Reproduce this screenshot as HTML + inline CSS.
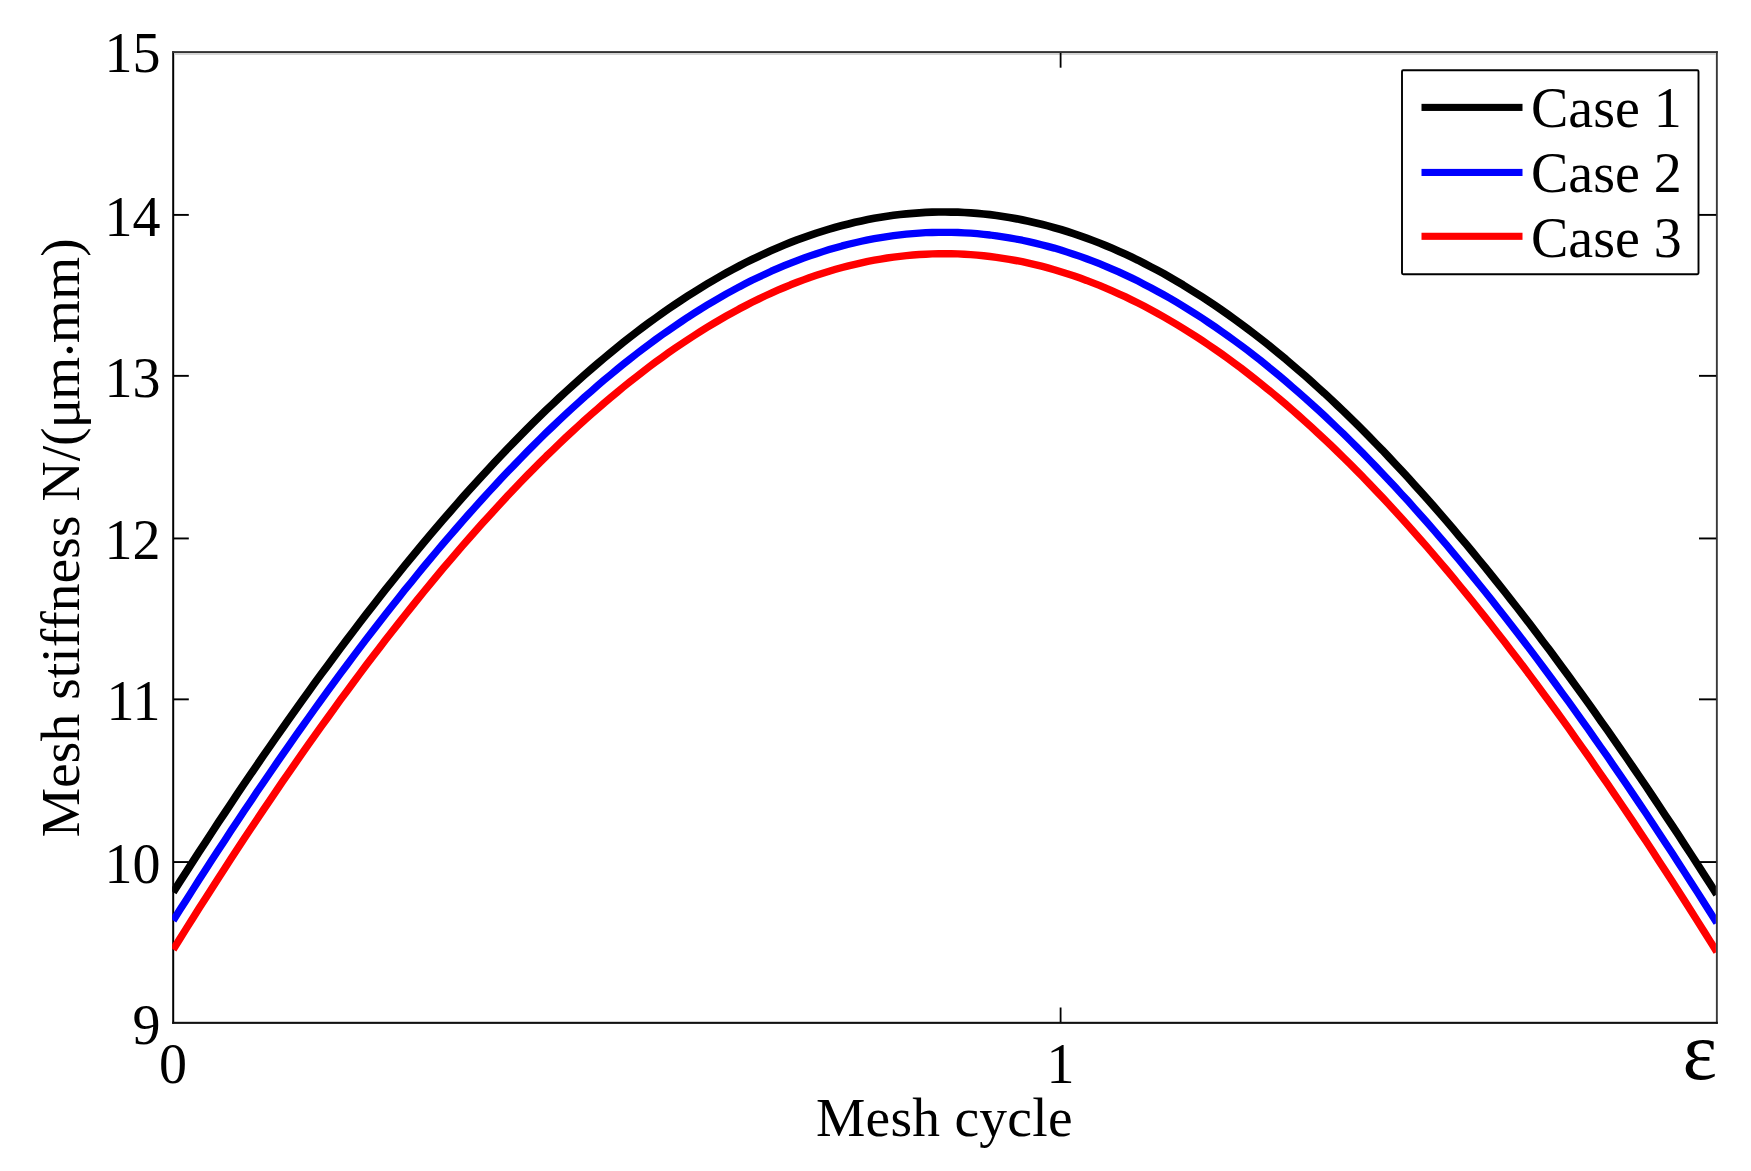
<!DOCTYPE html>
<html lang="en"><head><meta charset="utf-8"><title>Mesh stiffness</title>
<style>html,body{margin:0;padding:0;background:#fff;overflow:hidden}svg{display:block}</style></head>
<body>
<svg width="1751" height="1171" viewBox="0 0 1751 1171">
<rect width="1751" height="1171" fill="#fff"/>
<g fill="#000">
<rect x="172.2" y="51.2" width="2" height="972.5999999999999"/>
<rect x="1715.9" y="51.2" width="1.9" height="972.5999999999999" fill="#3a3a3a"/>
<rect x="172.2" y="51.1" width="1545.6" height="2" fill="#333"/>
<rect x="174.2" y="53.1" width="1541.7" height="1.8" fill="#d2d2d2"/>
<rect x="172.2" y="1021.8" width="1545.6" height="2.1" fill="#111"/>
<rect x="174" y="861.10" width="14.8" height="1.9"/>
<rect x="1699" y="861.10" width="17.2" height="1.9"/>
<rect x="174" y="698.40" width="14.8" height="1.9"/>
<rect x="1699" y="698.40" width="17.2" height="1.9"/>
<rect x="174" y="537.50" width="14.8" height="1.9"/>
<rect x="1699" y="537.50" width="17.2" height="1.9"/>
<rect x="174" y="374.90" width="14.8" height="1.9"/>
<rect x="1699" y="374.90" width="17.2" height="1.9"/>
<rect x="174" y="213.95" width="14.8" height="1.9"/>
<rect x="1699" y="213.95" width="17.2" height="1.9"/>
<rect x="1059.7" y="1007.5" width="1.8" height="14.5"/>
<rect x="1059.7" y="53" width="1.8" height="14.7"/>
</g>
<clipPath id="c"><rect x="172.2" y="52.3" width="1543.7" height="970.5"/></clipPath>
<g clip-path="url(#c)" fill="none" stroke-linejoin="round">
<path d="M173.2,949.5 L179.6,939.2 L186.1,928.9 L192.5,918.7 L198.9,908.5 L205.4,898.4 L211.8,888.4 L218.2,878.4 L224.7,868.5 L231.1,858.6 L237.5,848.8 L243.9,839.0 L250.4,829.3 L256.8,819.7 L263.2,810.1 L269.7,800.6 L276.1,791.1 L282.5,781.7 L289.0,772.4 L295.4,763.1 L301.8,753.9 L308.3,744.7 L314.7,735.6 L321.1,726.6 L327.6,717.7 L334.0,708.8 L340.4,699.9 L346.9,691.2 L353.3,682.5 L359.7,673.9 L366.1,665.3 L372.6,656.8 L379.0,648.4 L385.4,640.1 L391.9,631.8 L398.3,623.6 L404.7,615.5 L411.2,607.4 L417.6,599.4 L424.0,591.5 L430.5,583.7 L436.9,575.9 L443.3,568.2 L449.8,560.6 L456.2,553.1 L462.6,545.7 L469.1,538.3 L475.5,531.0 L481.9,523.8 L488.4,516.7 L494.8,509.7 L501.2,502.7 L507.6,495.8 L514.1,489.0 L520.5,482.3 L526.9,475.7 L533.4,469.2 L539.8,462.7 L546.2,456.3 L552.7,450.1 L559.1,443.9 L565.5,437.8 L572.0,431.8 L578.4,425.9 L584.8,420.0 L591.3,414.3 L597.7,408.7 L604.1,403.1 L610.6,397.7 L617.0,392.3 L623.4,387.0 L629.8,381.9 L636.3,376.8 L642.7,371.8 L649.1,366.9 L655.6,362.1 L662.0,357.4 L668.4,352.8 L674.9,348.3 L681.3,344.0 L687.7,339.7 L694.2,335.5 L700.6,331.4 L707.0,327.4 L713.5,323.5 L719.9,319.7 L726.3,316.0 L732.8,312.4 L739.2,308.9 L745.6,305.6 L752.0,302.3 L758.5,299.1 L764.9,296.0 L771.3,293.1 L777.8,290.2 L784.2,287.5 L790.6,284.8 L797.1,282.3 L803.5,279.9 L809.9,277.5 L816.4,275.3 L822.8,273.2 L829.2,271.2 L835.7,269.3 L842.1,267.5 L848.5,265.8 L855.0,264.3 L861.4,262.8 L867.8,261.4 L874.3,260.2 L880.7,259.1 L887.1,258.0 L893.5,257.1 L900.0,256.3 L906.4,255.6 L912.8,255.0 L919.3,254.5 L925.7,254.2 L932.1,253.9 L938.6,253.7 L945.0,253.7 L951.4,253.8 L957.9,253.9 L964.3,254.2 L970.7,254.6 L977.2,255.1 L983.6,255.8 L990.0,256.5 L996.5,257.3 L1002.9,258.3 L1009.3,259.3 L1015.7,260.5 L1022.2,261.7 L1028.6,263.1 L1035.0,264.6 L1041.5,266.2 L1047.9,267.9 L1054.3,269.7 L1060.8,271.7 L1067.2,273.7 L1073.6,275.8 L1080.1,278.1 L1086.5,280.4 L1092.9,282.9 L1099.4,285.4 L1105.8,288.1 L1112.2,290.9 L1118.7,293.8 L1125.1,296.7 L1131.5,299.8 L1138.0,303.0 L1144.4,306.3 L1150.8,309.7 L1157.2,313.2 L1163.7,316.9 L1170.1,320.6 L1176.5,324.4 L1183.0,328.3 L1189.4,332.3 L1195.8,336.4 L1202.3,340.7 L1208.7,345.0 L1215.1,349.4 L1221.6,353.9 L1228.0,358.5 L1234.4,363.2 L1240.9,368.0 L1247.3,373.0 L1253.7,378.0 L1260.2,383.1 L1266.6,388.3 L1273.0,393.5 L1279.4,398.9 L1285.9,404.4 L1292.3,410.0 L1298.7,415.6 L1305.2,421.4 L1311.6,427.2 L1318.0,433.2 L1324.5,439.2 L1330.9,445.3 L1337.3,451.5 L1343.8,457.8 L1350.2,464.2 L1356.6,470.7 L1363.1,477.2 L1369.5,483.9 L1375.9,490.6 L1382.4,497.4 L1388.8,504.3 L1395.2,511.3 L1401.6,518.3 L1408.1,525.5 L1414.5,532.7 L1420.9,540.0 L1427.4,547.4 L1433.8,554.9 L1440.2,562.4 L1446.7,570.0 L1453.1,577.7 L1459.5,585.5 L1466.0,593.3 L1472.4,601.3 L1478.8,609.3 L1485.3,617.3 L1491.7,625.5 L1498.1,633.7 L1504.6,642.0 L1511.0,650.4 L1517.4,658.8 L1523.9,667.3 L1530.3,675.9 L1536.7,684.5 L1543.1,693.2 L1549.6,702.0 L1556.0,710.8 L1562.4,719.7 L1568.9,728.7 L1575.3,737.8 L1581.7,746.9 L1588.2,756.0 L1594.6,765.3 L1601.0,774.6 L1607.5,783.9 L1613.9,793.3 L1620.3,802.8 L1626.8,812.3 L1633.2,821.9 L1639.6,831.6 L1646.1,841.3 L1652.5,851.1 L1658.9,860.9 L1665.3,870.8 L1671.8,880.7 L1678.2,890.7 L1684.6,900.8 L1691.1,910.9 L1697.5,921.1 L1703.9,931.3 L1710.4,941.6 L1716.8,951.9" stroke="#ff0000" stroke-width="7.4"/>
<path d="M173.2,920.5 L179.6,910.3 L186.1,900.2 L192.5,890.1 L198.9,880.0 L205.4,870.0 L211.8,860.1 L218.2,850.2 L224.7,840.4 L231.1,830.6 L237.5,820.9 L243.9,811.3 L250.4,801.7 L256.8,792.1 L263.2,782.7 L269.7,773.2 L276.1,763.9 L282.5,754.6 L289.0,745.3 L295.4,736.2 L301.8,727.1 L308.3,718.0 L314.7,709.0 L321.1,700.1 L327.6,691.2 L334.0,682.4 L340.4,673.7 L346.9,665.0 L353.3,656.4 L359.7,647.9 L366.1,639.4 L372.6,631.0 L379.0,622.7 L385.4,614.5 L391.9,606.3 L398.3,598.2 L404.7,590.1 L411.2,582.2 L417.6,574.3 L424.0,566.4 L430.5,558.7 L436.9,551.0 L443.3,543.4 L449.8,535.9 L456.2,528.5 L462.6,521.1 L469.1,513.8 L475.5,506.6 L481.9,499.5 L488.4,492.4 L494.8,485.5 L501.2,478.6 L507.6,471.8 L514.1,465.1 L520.5,458.4 L526.9,451.9 L533.4,445.4 L539.8,439.0 L546.2,432.7 L552.7,426.5 L559.1,420.4 L565.5,414.4 L572.0,408.4 L578.4,402.6 L584.8,396.8 L591.3,391.2 L597.7,385.6 L604.1,380.1 L610.6,374.7 L617.0,369.4 L623.4,364.2 L629.8,359.1 L636.3,354.0 L642.7,349.1 L649.1,344.3 L655.6,339.5 L662.0,334.9 L668.4,330.4 L674.9,325.9 L681.3,321.6 L687.7,317.3 L694.2,313.2 L700.6,309.1 L707.0,305.2 L713.5,301.3 L719.9,297.6 L726.3,293.9 L732.8,290.4 L739.2,286.9 L745.6,283.6 L752.0,280.3 L758.5,277.2 L764.9,274.2 L771.3,271.2 L777.8,268.4 L784.2,265.7 L790.6,263.1 L797.1,260.6 L803.5,258.2 L809.9,255.9 L816.4,253.7 L822.8,251.6 L829.2,249.6 L835.7,247.7 L842.1,245.9 L848.5,244.3 L855.0,242.7 L861.4,241.3 L867.8,239.9 L874.3,238.7 L880.7,237.6 L887.1,236.6 L893.5,235.7 L900.0,234.9 L906.4,234.2 L912.8,233.6 L919.3,233.1 L925.7,232.7 L932.1,232.5 L938.6,232.3 L945.0,232.3 L951.4,232.4 L957.9,232.5 L964.3,232.8 L970.7,233.2 L977.2,233.7 L983.6,234.3 L990.0,235.0 L996.5,235.9 L1002.9,236.8 L1009.3,237.8 L1015.7,239.0 L1022.2,240.2 L1028.6,241.6 L1035.0,243.1 L1041.5,244.7 L1047.9,246.4 L1054.3,248.1 L1060.8,250.0 L1067.2,252.1 L1073.6,254.2 L1080.1,256.4 L1086.5,258.7 L1092.9,261.1 L1099.4,263.7 L1105.8,266.3 L1112.2,269.1 L1118.7,271.9 L1125.1,274.9 L1131.5,277.9 L1138.0,281.1 L1144.4,284.4 L1150.8,287.7 L1157.2,291.2 L1163.7,294.8 L1170.1,298.4 L1176.5,302.2 L1183.0,306.1 L1189.4,310.1 L1195.8,314.1 L1202.3,318.3 L1208.7,322.6 L1215.1,326.9 L1221.6,331.4 L1228.0,336.0 L1234.4,340.6 L1240.9,345.4 L1247.3,350.2 L1253.7,355.2 L1260.2,360.2 L1266.6,365.4 L1273.0,370.6 L1279.4,375.9 L1285.9,381.4 L1292.3,386.9 L1298.7,392.5 L1305.2,398.2 L1311.6,404.0 L1318.0,409.8 L1324.5,415.8 L1330.9,421.8 L1337.3,428.0 L1343.8,434.2 L1350.2,440.5 L1356.6,446.9 L1363.1,453.4 L1369.5,460.0 L1375.9,466.6 L1382.4,473.4 L1388.8,480.2 L1395.2,487.1 L1401.6,494.1 L1408.1,501.1 L1414.5,508.3 L1420.9,515.5 L1427.4,522.8 L1433.8,530.2 L1440.2,537.7 L1446.7,545.2 L1453.1,552.8 L1459.5,560.5 L1466.0,568.3 L1472.4,576.1 L1478.8,584.0 L1485.3,592.0 L1491.7,600.1 L1498.1,608.2 L1504.6,616.4 L1511.0,624.7 L1517.4,633.0 L1523.9,641.4 L1530.3,649.9 L1536.7,658.4 L1543.1,667.0 L1549.6,675.7 L1556.0,684.5 L1562.4,693.3 L1568.9,702.2 L1575.3,711.1 L1581.7,720.1 L1588.2,729.2 L1594.6,738.3 L1601.0,747.5 L1607.5,756.7 L1613.9,766.1 L1620.3,775.4 L1626.8,784.9 L1633.2,794.4 L1639.6,803.9 L1646.1,813.5 L1652.5,823.2 L1658.9,832.9 L1665.3,842.7 L1671.8,852.5 L1678.2,862.4 L1684.6,872.4 L1691.1,882.4 L1697.5,892.4 L1703.9,902.5 L1710.4,912.7 L1716.8,922.9" stroke="#0000ff" stroke-width="7.3"/>
<path d="M173.2,892.2 L179.6,882.1 L186.1,872.1 L192.5,862.1 L198.9,852.2 L205.4,842.3 L211.8,832.5 L218.2,822.7 L224.7,813.0 L231.1,803.3 L237.5,793.7 L243.9,784.2 L250.4,774.7 L256.8,765.3 L263.2,755.9 L269.7,746.6 L276.1,737.4 L282.5,728.2 L289.0,719.0 L295.4,710.0 L301.8,701.0 L308.3,692.0 L314.7,683.1 L321.1,674.3 L327.6,665.6 L334.0,656.9 L340.4,648.2 L346.9,639.7 L353.3,631.2 L359.7,622.7 L366.1,614.4 L372.6,606.1 L379.0,597.9 L385.4,589.7 L391.9,581.6 L398.3,573.6 L404.7,565.6 L411.2,557.8 L417.6,550.0 L424.0,542.2 L430.5,534.6 L436.9,527.0 L443.3,519.5 L449.8,512.1 L456.2,504.7 L462.6,497.4 L469.1,490.2 L475.5,483.1 L481.9,476.1 L488.4,469.1 L494.8,462.2 L501.2,455.4 L507.6,448.7 L514.1,442.0 L520.5,435.5 L526.9,429.0 L533.4,422.6 L539.8,416.3 L546.2,410.1 L552.7,404.0 L559.1,397.9 L565.5,392.0 L572.0,386.1 L578.4,380.3 L584.8,374.6 L591.3,369.0 L597.7,363.5 L604.1,358.1 L610.6,352.7 L617.0,347.5 L623.4,342.3 L629.8,337.3 L636.3,332.3 L642.7,327.4 L649.1,322.7 L655.6,318.0 L662.0,313.4 L668.4,308.9 L674.9,304.5 L681.3,300.2 L687.7,296.0 L694.2,291.9 L700.6,287.9 L707.0,284.0 L713.5,280.2 L719.9,276.5 L726.3,272.9 L732.8,269.4 L739.2,266.0 L745.6,262.7 L752.0,259.5 L758.5,256.4 L764.9,253.4 L771.3,250.5 L777.8,247.7 L784.2,245.0 L790.6,242.4 L797.1,239.9 L803.5,237.6 L809.9,235.3 L816.4,233.1 L822.8,231.1 L829.2,229.1 L835.7,227.2 L842.1,225.5 L848.5,223.9 L855.0,222.3 L861.4,220.9 L867.8,219.6 L874.3,218.3 L880.7,217.2 L887.1,216.2 L893.5,215.3 L900.0,214.5 L906.4,213.9 L912.8,213.3 L919.3,212.8 L925.7,212.4 L932.1,212.2 L938.6,212.0 L945.0,212.0 L951.4,212.1 L957.9,212.2 L964.3,212.5 L970.7,212.9 L977.2,213.4 L983.6,214.0 L990.0,214.7 L996.5,215.5 L1002.9,216.5 L1009.3,217.5 L1015.7,218.6 L1022.2,219.9 L1028.6,221.2 L1035.0,222.7 L1041.5,224.2 L1047.9,225.9 L1054.3,227.7 L1060.8,229.5 L1067.2,231.5 L1073.6,233.6 L1080.1,235.8 L1086.5,238.1 L1092.9,240.5 L1099.4,243.0 L1105.8,245.6 L1112.2,248.3 L1118.7,251.2 L1125.1,254.1 L1131.5,257.1 L1138.0,260.2 L1144.4,263.5 L1150.8,266.8 L1157.2,270.2 L1163.7,273.7 L1170.1,277.4 L1176.5,281.1 L1183.0,284.9 L1189.4,288.9 L1195.8,292.9 L1202.3,297.0 L1208.7,301.2 L1215.1,305.5 L1221.6,310.0 L1228.0,314.5 L1234.4,319.1 L1240.9,323.8 L1247.3,328.6 L1253.7,333.5 L1260.2,338.5 L1266.6,343.5 L1273.0,348.7 L1279.4,354.0 L1285.9,359.3 L1292.3,364.8 L1298.7,370.3 L1305.2,375.9 L1311.6,381.6 L1318.0,387.5 L1324.5,393.3 L1330.9,399.3 L1337.3,405.4 L1343.8,411.5 L1350.2,417.8 L1356.6,424.1 L1363.1,430.5 L1369.5,437.0 L1375.9,443.6 L1382.4,450.2 L1388.8,457.0 L1395.2,463.8 L1401.6,470.7 L1408.1,477.7 L1414.5,484.8 L1420.9,491.9 L1427.4,499.1 L1433.8,506.4 L1440.2,513.8 L1446.7,521.2 L1453.1,528.8 L1459.5,536.4 L1466.0,544.0 L1472.4,551.8 L1478.8,559.6 L1485.3,567.5 L1491.7,575.5 L1498.1,583.5 L1504.6,591.6 L1511.0,599.8 L1517.4,608.0 L1523.9,616.3 L1530.3,624.7 L1536.7,633.1 L1543.1,641.7 L1549.6,650.2 L1556.0,658.9 L1562.4,667.6 L1568.9,676.4 L1575.3,685.2 L1581.7,694.1 L1588.2,703.1 L1594.6,712.1 L1601.0,721.2 L1607.5,730.3 L1613.9,739.5 L1620.3,748.8 L1626.8,758.1 L1633.2,767.5 L1639.6,776.9 L1646.1,786.4 L1652.5,796.0 L1658.9,805.6 L1665.3,815.3 L1671.8,825.0 L1678.2,834.7 L1684.6,844.6 L1691.1,854.5 L1697.5,864.4 L1703.9,874.4 L1710.4,884.4 L1716.8,894.5" stroke="#000000" stroke-width="7.7"/>
</g>
<g font-family="'Liberation Serif', 'DejaVu Serif', serif" font-size="56" fill="#000">
<text x="160.5" y="1043.8" text-anchor="end">9</text>
<text x="160.5" y="882.9" text-anchor="end">10</text>
<text x="160.5" y="720.2" text-anchor="end">11</text>
<text x="160.5" y="559.4" text-anchor="end">12</text>
<text x="160.5" y="396.8" text-anchor="end">13</text>
<text x="160.5" y="235.8" text-anchor="end">14</text>
<text x="160.5" y="72.2" text-anchor="end">15</text>
<text x="173" y="1083.4" text-anchor="middle">0</text>
<text x="1060.6" y="1083.4" text-anchor="middle">1</text>
<text x="1717.2" y="1079.3" text-anchor="end" font-size="82.5">ε</text>
<text x="944.4" y="1136" text-anchor="middle" font-size="55.5" letter-spacing="0.25">Mesh cycle</text>
<text transform="translate(78.7,837.3) rotate(-90)" font-size="55.5" letter-spacing="0.05" style="font-variant-ligatures:none">Mesh stiffness N/(<tspan dx="-1">μ</tspan><tspan dx="-1.5">m</tspan><tspan dx="-2.5" dy="9.5">·</tspan><tspan dx="-2.5" dy="-9.5">mm)</tspan></text>
<rect x="1402.0" y="70.25" width="296.5" height="204.05" fill="#fff" stroke="#000" stroke-width="1.9" rx="1.2"/>
<rect x="1421.5" y="103.85" width="101" height="7.1" fill="#000000"/>
<text x="1531" y="127">Case 1</text>
<rect x="1421.5" y="168.90" width="101" height="7.1" fill="#0000ff"/>
<text x="1531" y="192">Case 2</text>
<rect x="1421.5" y="232.75" width="101" height="7.1" fill="#ff0000"/>
<text x="1531" y="256.6">Case 3</text>
</g>
</svg>
</body></html>
